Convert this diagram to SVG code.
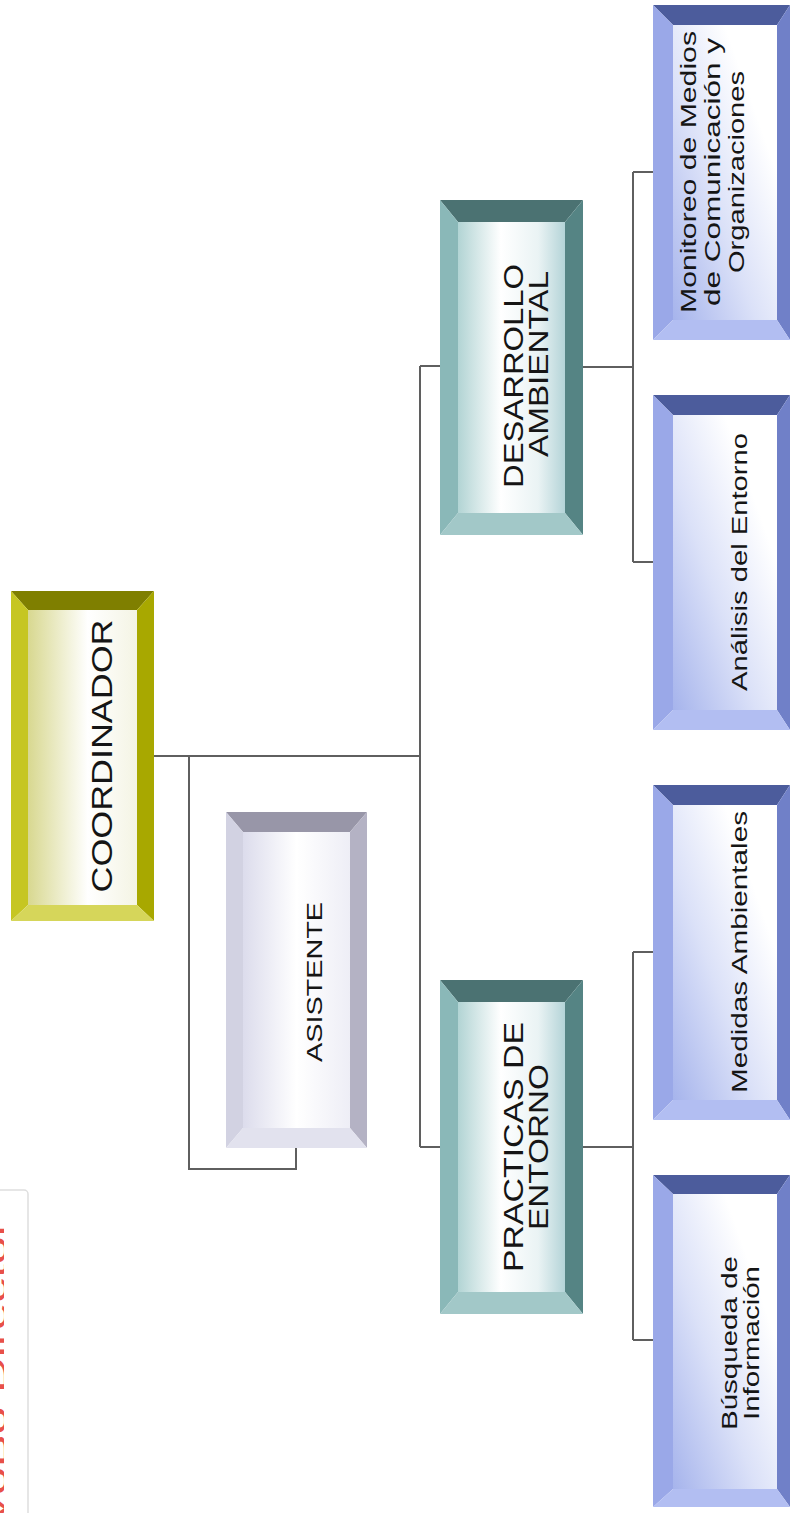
<svg xmlns="http://www.w3.org/2000/svg" width="790" height="1513" viewBox="0 0 790 1513">
<style>
.t{font-family:"Liberation Sans",Arial,sans-serif;fill:#151515;text-anchor:middle}
.n{font-family:"Liberation Sans",Arial,sans-serif;fill:#e8504a;text-anchor:start}
.c{fill:none;stroke:#5f5f5f;stroke-width:2}
</style>
<defs>
<linearGradient id="gBlue" x1="0" y1="1" x2="1" y2="0"><stop offset="0" stop-color="#a6b4ec"/><stop offset="0.4" stop-color="#dbe1f8"/><stop offset="0.75" stop-color="#ffffff"/><stop offset="1" stop-color="#ffffff"/></linearGradient>
<linearGradient id="gTeal" x1="0" y1="0" x2="1" y2="0"><stop offset="0" stop-color="#b2d4d4"/><stop offset="0.4" stop-color="#ffffff"/><stop offset="0.75" stop-color="#eaf3f4"/><stop offset="1" stop-color="#b4d4d8"/></linearGradient>
<linearGradient id="gYel" x1="0" y1="0" x2="1" y2="0"><stop offset="0" stop-color="#d8d890"/><stop offset="0.55" stop-color="#ffffff"/><stop offset="1" stop-color="#f4f4e4"/></linearGradient>
<linearGradient id="gLav" x1="0" y1="0" x2="1" y2="0"><stop offset="0" stop-color="#dcdcec"/><stop offset="0.5" stop-color="#ffffff"/><stop offset="1" stop-color="#eeeef6"/></linearGradient>
</defs>

<g id="note">
<rect x="-10" y="1190" width="38" height="340" rx="4" fill="#ffffff" stroke="#dedede" stroke-width="1.5"/>
<svg x="0" y="1190" width="4" height="323" viewBox="0 1190 4 323" overflow="hidden">
<text class="n" transform="translate(6,1525) rotate(-90)" font-size="26" textLength="305" lengthAdjust="spacingAndGlyphs">VoBo Director</text>
</svg>
</g>

<g id="connectors">
<path class="c" d="M154,756 H420"/>
<path class="c" d="M420,366 V1147"/>
<path class="c" d="M420,366 H440"/>
<path class="c" d="M420,1147 H440"/>
<path class="c" d="M189,756 V1169 H296 V1148"/>
<path class="c" d="M583,367 H633"/>
<path class="c" d="M633,172 V562"/>
<path class="c" d="M633,172 H653"/>
<path class="c" d="M633,562 H653"/>
<path class="c" d="M583,1147 H633"/>
<path class="c" d="M633,952 V1340"/>
<path class="c" d="M633,952 H653"/>
<path class="c" d="M633,1340 H653"/>
</g>

<g id="coordinador">
<polygon points="11,591 154,591 137,610 28,610" fill="#7f7f00"/>
<polygon points="11,591 28,610 28,905 11,921" fill="#c6c622"/>
<polygon points="154,591 154,921 137,905 137,610" fill="#a8a800"/>
<polygon points="11,921 28,905 137,905 154,921" fill="#d6d65a"/>
<rect x="28" y="610" width="109" height="295" fill="url(#gYel)"/>
<text class="t" font-size="30" transform="translate(112,756) rotate(-90)" textLength="273" lengthAdjust="spacingAndGlyphs">COORDINADOR</text>
</g>

<g id="asistente">
<polygon points="226,812 367,812 350,832 243,832" fill="#9896a8"/>
<polygon points="226,812 243,832 243,1128 226,1148" fill="#d2d2e2"/>
<polygon points="367,812 367,1148 350,1128 350,832" fill="#b4b2c4"/>
<polygon points="226,1148 243,1128 350,1128 367,1148" fill="#e2e2ee"/>
<rect x="243" y="832" width="107" height="296" fill="url(#gLav)"/>
<text class="t" font-size="22" transform="translate(322,982) rotate(-90)" textLength="160" lengthAdjust="spacingAndGlyphs">ASISTENTE</text>
</g>

<g id="desarrollo">
<polygon points="440,200 583,200 565,222 458,222" fill="#4b7272"/>
<polygon points="440,200 458,222 458,513 440,535" fill="#8ab8b8"/>
<polygon points="583,200 583,535 565,513 565,222" fill="#558484"/>
<polygon points="440,535 458,513 565,513 583,535" fill="#a2c8c8"/>
<rect x="458" y="222" width="107" height="291" fill="url(#gTeal)"/>
<text class="t" font-size="28" transform="translate(523,376) rotate(-90)" textLength="224" lengthAdjust="spacingAndGlyphs">DESARROLLO</text>
<text class="t" font-size="28" transform="translate(548,364) rotate(-90)" textLength="186" lengthAdjust="spacingAndGlyphs">AMBIENTAL</text>
</g>

<g id="practicas">
<polygon points="440,980 583,980 565,1002 458,1002" fill="#4b7272"/>
<polygon points="440,980 458,1002 458,1292 440,1314" fill="#8ab8b8"/>
<polygon points="583,980 583,1314 565,1292 565,1002" fill="#558484"/>
<polygon points="440,1314 458,1292 565,1292 583,1314" fill="#a2c8c8"/>
<rect x="458" y="1002" width="107" height="290" fill="url(#gTeal)"/>
<text class="t" font-size="28" transform="translate(523,1147) rotate(-90)" textLength="250" lengthAdjust="spacingAndGlyphs">PRACTICAS DE</text>
<text class="t" font-size="28" transform="translate(548,1147) rotate(-90)" textLength="166" lengthAdjust="spacingAndGlyphs">ENTORNO</text>
</g>

<g id="monitoreo">
<polygon points="653,5 790,5 777,25 673,25" fill="#4c5c9c"/>
<polygon points="653,5 673,25 673,320 653,340" fill="#9aa8e8"/>
<polygon points="790,5 790,340 777,320 777,25" fill="#7080c8"/>
<polygon points="653,340 673,320 777,320 790,340" fill="#b2bef2"/>
<rect x="673" y="25" width="104" height="295" fill="url(#gBlue)"/>
<text class="t" font-size="22" transform="translate(696,172) rotate(-90)" textLength="282" lengthAdjust="spacingAndGlyphs">Monitoreo de Medios</text>
<text class="t" font-size="22" transform="translate(720,172) rotate(-90)" textLength="268" lengthAdjust="spacingAndGlyphs">de Comunicación y</text>
<text class="t" font-size="22" transform="translate(744,172) rotate(-90)" textLength="202" lengthAdjust="spacingAndGlyphs">Organizaciones</text>
</g>

<g id="analisis">
<polygon points="653,395 790,395 777,415 673,415" fill="#4c5c9c"/>
<polygon points="653,395 673,415 673,710 653,730" fill="#9aa8e8"/>
<polygon points="790,395 790,730 777,710 777,415" fill="#7080c8"/>
<polygon points="653,730 673,710 777,710 790,730" fill="#b2bef2"/>
<rect x="673" y="415" width="104" height="295" fill="url(#gBlue)"/>
<text class="t" font-size="22" transform="translate(747,562) rotate(-90)" textLength="258" lengthAdjust="spacingAndGlyphs">Análisis del Entorno</text>
</g>

<g id="medidas">
<polygon points="653,785 790,785 777,805 673,805" fill="#4c5c9c"/>
<polygon points="653,785 673,805 673,1100 653,1120" fill="#9aa8e8"/>
<polygon points="790,785 790,1120 777,1100 777,805" fill="#7080c8"/>
<polygon points="653,1120 673,1100 777,1100 790,1120" fill="#b2bef2"/>
<rect x="673" y="805" width="104" height="295" fill="url(#gBlue)"/>
<text class="t" font-size="22" transform="translate(747,952) rotate(-90)" textLength="282" lengthAdjust="spacingAndGlyphs">Medidas Ambientales</text>
</g>

<g id="busqueda">
<polygon points="653,1175 790,1175 777,1194 673,1194" fill="#4c5c9c"/>
<polygon points="653,1175 673,1194 673,1489 653,1507" fill="#9aa8e8"/>
<polygon points="790,1175 790,1507 777,1489 777,1194" fill="#7080c8"/>
<polygon points="653,1507 673,1489 777,1489 790,1507" fill="#b2bef2"/>
<rect x="673" y="1194" width="104" height="295" fill="url(#gBlue)"/>
<text class="t" font-size="22" transform="translate(737,1343) rotate(-90)" textLength="174" lengthAdjust="spacingAndGlyphs">Búsqueda de</text>
<text class="t" font-size="22" transform="translate(759,1343) rotate(-90)" textLength="154" lengthAdjust="spacingAndGlyphs">Información</text>
</g>
</svg>
